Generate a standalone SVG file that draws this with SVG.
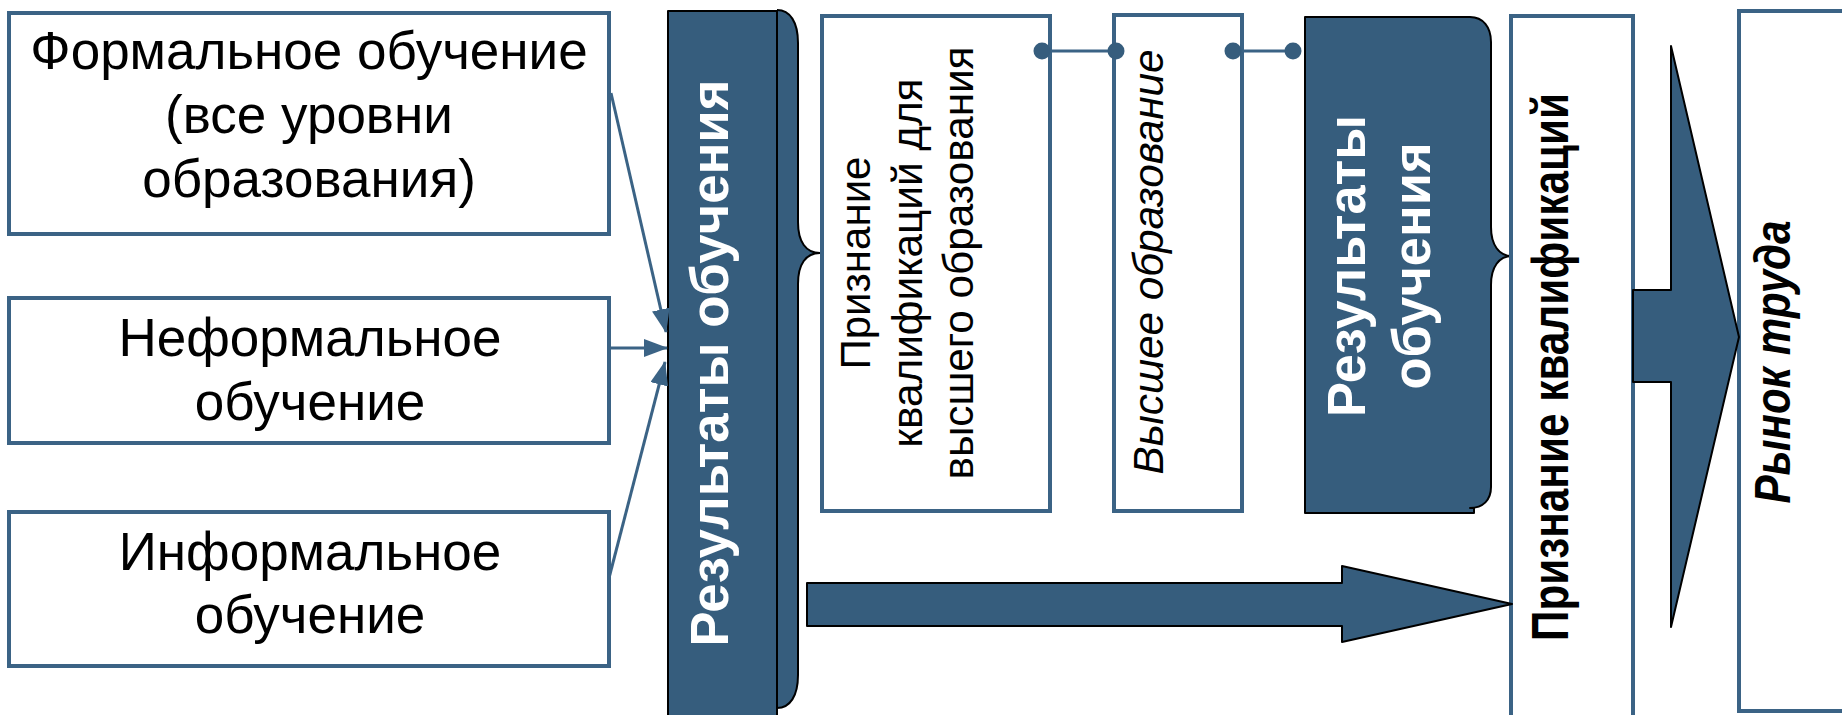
<svg xmlns="http://www.w3.org/2000/svg" width="1842" height="715" viewBox="0 0 1842 715">
<defs>
<style>
.box{fill:#fff;stroke:#3B6385;stroke-width:4}
.dark{fill:#365D7D;stroke:#000;stroke-width:2;stroke-linejoin:round}
.fillonly{fill:#365D7D;stroke:none}
.edge{fill:none;stroke:#000;stroke-width:2}
.t{font-family:"Liberation Sans",Arial,sans-serif;fill:#000}
.lbl{font-size:53px;text-anchor:middle}
.w{fill:#fff;font-weight:bold;text-anchor:middle}
.conn{stroke:#3B6385;stroke-width:3;fill:none}
.dot{fill:#365D7D}
</style>
<marker id="ah" markerUnits="userSpaceOnUse" markerWidth="24" markerHeight="18" refX="23" refY="9" orient="auto">
<path d="M0,0 L24,9 L0,18 Z" fill="#3B6385"/>
</marker>
</defs>
<rect width="1842" height="715" fill="#fff"/>

<g id="formal">
<rect class="box" x="9" y="13" width="600" height="221"/>
<text class="t lbl" x="309" y="69">Формальное обучение</text>
<text class="t lbl" x="309" y="133">(все уровни</text>
<text class="t lbl" x="309" y="197">образования)</text>
</g>

<g id="nonformal">
<rect class="box" x="9" y="298" width="600" height="145"/>
<text class="t lbl" x="310" y="356">Неформальное</text>
<text class="t lbl" x="310" y="420">обучение</text>
</g>

<g id="informal">
<rect class="box" x="9" y="512" width="600" height="154"/>
<text class="t lbl" x="310" y="570">Информальное</text>
<text class="t lbl" x="310" y="633">обучение</text>
</g>

<g id="outcomes1">
<path class="fillonly" d="M777,10 C790,10 798,22 798,43 L798,222 C798,242 806,253 820,253 C806,253 798,264 798,284 L798,675 C798,696 790,708 777,708 Z"/>
<path class="edge" d="M777,10 C790,10 798,22 798,43 L798,222 C798,242 806,253 820,253 C806,253 798,264 798,284 L798,675 C798,696 790,708 777,708"/>
<rect class="dark" x="668" y="11" width="109" height="705"/>
<text class="t w" transform="translate(728,363) rotate(-90)" font-size="54" textLength="567" lengthAdjust="spacingAndGlyphs">Результаты обучения</text>
</g>

<g id="recognition-he">
<rect class="box" x="822" y="16" width="228" height="495"/>
<g transform="translate(870,263) rotate(-90)">
<text class="t" x="0" y="0" font-size="42" text-anchor="middle" textLength="213" lengthAdjust="spacingAndGlyphs">Признание</text>
<text class="t" x="0" y="52" font-size="42" text-anchor="middle" textLength="369" lengthAdjust="spacingAndGlyphs">квалификаций для</text>
<text class="t" x="0" y="103" font-size="42" text-anchor="middle" textLength="433" lengthAdjust="spacingAndGlyphs">высшего образования</text>
</g>
</g>

<g id="higher-ed">
<rect class="box" x="1114" y="15" width="128" height="496"/>
<text class="t" transform="translate(1163,262) rotate(-90)" font-size="42" font-style="italic" text-anchor="middle" textLength="425" lengthAdjust="spacingAndGlyphs">Высшее образование</text>
</g>

<g id="outcomes2">
<path class="dark" d="M1305,17 L1470,17 C1483,17 1491,27 1491,42 L1491,227 C1491,245 1499,256 1512,256 C1499,256 1491,267 1491,285 L1491,487 C1491,500 1483,508 1470,508 L1474,508 L1474,513 L1305,513 Z"/>
<g transform="translate(1365,266) rotate(-90)">
<text class="t w" x="0" y="0" font-size="53" textLength="302" lengthAdjust="spacingAndGlyphs">Результаты</text>
<text class="t w" x="0" y="65" font-size="53" textLength="247" lengthAdjust="spacingAndGlyphs">обучения</text>
</g>
</g>

<g id="recognition">
<rect class="box" x="1511" y="16" width="122" height="710"/>
<text class="t" transform="translate(1568,367) rotate(-90)" font-size="52" font-weight="bold" text-anchor="middle" textLength="548" lengthAdjust="spacingAndGlyphs">Признание квалификаций</text>
</g>

<g id="labour-market">
<rect class="box" x="1739" y="11" width="110" height="700"/>
<text class="t" transform="translate(1790,362) rotate(-90)" font-size="50" font-weight="bold" font-style="italic" text-anchor="middle" textLength="283" lengthAdjust="spacingAndGlyphs">Рынок труда</text>
</g>

<g id="connectors">
<line class="conn" x1="611" y1="93" x2="666" y2="332" marker-end="url(#ah)"/>
<line class="conn" x1="611" y1="348" x2="667" y2="348" marker-end="url(#ah)"/>
<line class="conn" x1="609" y1="578" x2="665" y2="362" marker-end="url(#ah)"/>
<line class="conn" x1="1042" y1="51" x2="1116" y2="51"/>
<line class="conn" x1="1233" y1="51" x2="1293" y2="51"/>
<circle class="dot" cx="1042" cy="51" r="8.5"/>
<circle class="dot" cx="1116" cy="51" r="8.5"/>
<circle class="dot" cx="1233" cy="51" r="8.5"/>
<circle class="dot" cx="1293" cy="51" r="8.5"/>
<polygon class="dark" points="807,583 1342,583 1342,566 1512,604 1342,642 1342,626 807,626"/>
<polygon class="dark" points="1633,290 1671,290 1671,46 1739,337 1671,627 1671,382 1633,382"/>
</g>
</svg>
